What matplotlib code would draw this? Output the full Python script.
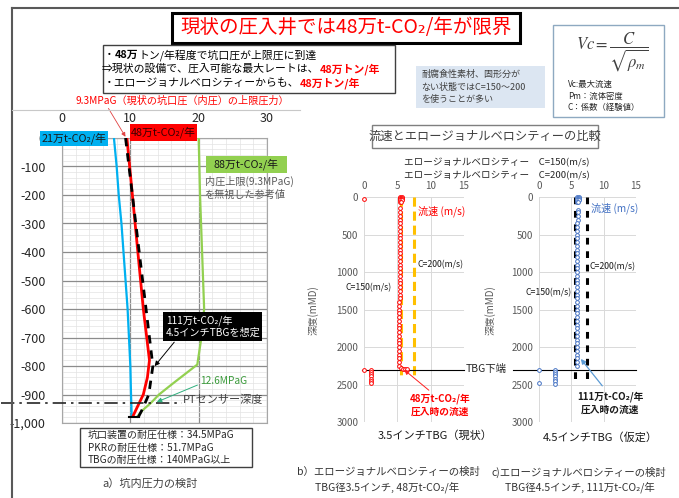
import matplotlib
matplotlib.use("Agg")
import matplotlib.pyplot as plt
from matplotlib.patches import Rectangle
from matplotlib.lines import Line2D

plt.rcParams['font.family'] = ['Noto Sans CJK JP', 'DejaVu Sans']
plt.rcParams['mathtext.fontset'] = 'stix'

W, H = 679, 498

# a) 坑内圧力の検討  (圧力 MPaG, 深度 m)
depth_21 = [0, -100, -200, -300, -400, -500, -600, -700, -800, -900, -975]
p_21 = [7.6, 8.0, 8.3, 8.7, 9.0, 9.3, 9.6, 9.8, 10.0, 10.1, 10.2]
depth_48 = [0, -200, -400, -600, -700, -780, -840, -900, -950, -975]
p_48 = [9.5, 10.3, 11.1, 11.9, 12.4, 12.8, 12.5, 11.9, 10.9, 10.4]
depth_111 = [0, -200, -400, -600, -700, -800, -900, -950, -978]
p_111 = [9.3, 10.3, 11.3, 12.3, 12.8, 13.3, 12.7, 11.8, 11.2]
depth_88 = [0, -200, -400, -600, -700, -795, -860, -900, -930, -955, -978]
p_88 = [20.0, 20.2, 20.5, 20.8, 20.4, 19.8, 16.3, 14.2, 13.0, 11.8, 11.0]
bottom_depth = -980
bottom_p = [9.8, 11.2]
pt_depth = -930
yticks_a = [0, -100, -200, -300, -400, -500, -600, -700, -800, -900, -1000]
ylabels_a = ["0", "-100", "-200", "-300", "-400", "-500", "-600", "-700", "-800", "-900", "-1,000"]

# b) 3.5インチTBG  流速 (m/s) vs 深度 (mMD)
depth_b = [0, 0, 15, 15, 30, 30, 45, 45, 60, 60,
           150, 200, 250, 300, 350, 400, 450, 500, 550, 600, 650, 700, 750, 800, 850,
           900, 950, 1000, 1050, 1100, 1150, 1200, 1250, 1300, 1350, 1400, 1450, 1500,
           1550, 1600, 1650, 1700, 1750, 1800, 1850, 1900, 1950, 2000, 2050, 2100, 2150,
           2200, 2250, 2280, 2290, 2290, 2295,
           20, 2300, 2300, 2330, 2360, 2390, 2420, 2450, 2480]
vel_b = [5.4, 5.7, 5.4, 5.7, 5.4, 5.7, 5.4, 5.7, 5.4, 5.6,
         5.45, 5.45, 5.45, 5.45, 5.4, 5.4, 5.4, 5.4, 5.4, 5.4, 5.4, 5.4, 5.4, 5.4, 5.4,
         5.4, 5.35, 5.35, 5.35, 5.35, 5.35, 5.35, 5.35, 5.35, 5.35, 5.3, 5.3, 5.3,
         5.3, 5.3, 5.3, 5.3, 5.3, 5.3, 5.3, 5.3, 5.3, 5.3, 5.3, 5.3, 5.3,
         5.3, 5.3, 5.5, 5.8, 6.1, 6.4,
         0.0, 0.0, 1.0, 1.0, 1.0, 1.0, 1.0, 1.0, 1.0]
c150_b = [5.6, 5.6]
c200_b = [7.5, 7.5]
c_depth_b = [0, 2400]

# c) 4.5インチTBG
depth_c = [0, 0, 15, 15, 30, 30, 45, 45, 60, 60,
           170, 200, 250, 300, 350, 400, 450, 500, 550, 600, 650, 700, 750, 800, 850,
           900, 950, 1000, 1050, 1100, 1150, 1200, 1250, 1300, 1350, 1400, 1450, 1500,
           1550, 1600, 1650, 1700, 1750, 1800, 1850, 1900, 1950, 2000, 2050, 2100, 2150,
           2200, 2250,
           2300, 2480, 2300, 2330, 2360, 2390, 2420, 2450, 2490]
vel_c = [5.9, 6.2, 5.9, 6.2, 5.9, 6.2, 5.9, 6.2, 5.9, 6.1,
         6.0, 6.0, 6.0, 6.0, 5.95, 5.95, 5.95, 5.95, 5.9, 5.9, 5.9, 5.9, 5.9, 5.9, 5.9,
         5.9, 5.9, 5.85, 5.85, 5.85, 5.85, 5.85, 5.85, 5.85, 5.85, 5.85, 5.85, 5.8,
         5.8, 5.8, 5.8, 5.8, 5.8, 5.8, 5.8, 5.8, 5.8, 5.8, 5.8, 5.8, 5.8,
         5.8, 5.8,
         0.0, 0.0, 2.4, 2.4, 2.4, 2.4, 2.4, 2.4, 2.4]
c150_c = [5.5, 5.5]
c200_c = [7.4, 7.4]
c_depth_c = [0, 2480]
tbg_depth = 2300


def box(x0, y0, x1, y1):
    return [x0 / W, 1 - y1 / H, (x1 - x0) / W, (y1 - y0) / H]


def fx(x):
    return x / W


def fy(y):
    return 1 - y / H


def rect(x0, y0, x1, y1, fc="none", ec="black", lw=1.0, z=5):
    fig.patches.append(Rectangle((fx(x0), fy(y1)), (x1 - x0) / W, (y1 - y0) / H,
                                 transform=fig.transFigure, facecolor=fc,
                                 edgecolor=ec, linewidth=lw, zorder=z))


def text(x, y, s, **kw):
    kw.setdefault("va", "center")
    return fig.text(fx(x), fy(y), s, **kw)


def rich(x, y, parts, size):
    r = fig.canvas.get_renderer()
    for s, color, weight in parts:
        t = text(x, y, s, fontsize=size, color=color, fontweight=weight, zorder=6)
        x = t.get_window_extent(r).x1


fig = plt.figure(figsize=(W / 100, H / 100), dpi=100)

# frame lines
fig.add_artist(Line2D([fx(12), 1], [fy(8), fy(8)], color="#595959", lw=1.5))
fig.add_artist(Line2D([fx(12), fx(12)], [fy(8), 0], color="#595959", lw=1.5))
fig.add_artist(Line2D([fx(12), fx(300)], [fy(110), fy(110)], color="#c8c8c8", lw=0.8))

# title
rect(172, 13, 520, 43, fc="white", ec="black", lw=2.2)
text(346, 28, "現状の圧入井では48万t-CO₂/年が限界", ha="center", fontsize=14,
     color="#ff0000", zorder=6)

# bullet box
rect(103, 45, 395, 93, fc="white", ec="#404040", lw=1.0)
rich(104, 55, [("・", "black", "normal"), ("48万", "black", "bold"),
               ("トン/年程度で坑口圧が上限圧に到達", "black", "normal")], 7.8)
rich(102, 69, [("⇒現状の設備で、圧入可能な最大レートは、", "black", "normal"),
               ("48万トン/年", "#ff0000", "bold")], 7.8)
rich(104, 83, [("・エロージョナルベロシティーからも、", "black", "normal"),
               ("48万トン/年", "#ff0000", "bold")], 7.8)

# note box
rect(416, 66, 545, 108, fc="#dce6f2", ec="none")
text(421, 87, "耐腐食性素材、固形分が\nない状態ではC=150～200\nを使うことが多い",
     fontsize=6.5, color="#404040", linespacing=1.5, zorder=6)

# formula box
rect(553, 25, 664, 117, fc="white", ec="#8ea9c1", lw=1.0)
text(612, 52, r"$Vc=\dfrac{C}{\sqrt{\rho_m}}$", ha="center", fontsize=12,
     color="#404040", zorder=6)
text(568, 96, "Vc:最大流速\nPm：流体密度\nC：係数（経験値）", fontsize=6,
     color="#262626", linespacing=1.35, zorder=6)

# ---------- a) ----------
ax = fig.add_axes(box(62, 138, 267, 423))
ax.plot(p_21, depth_21, color="#00b0f0", lw=1.6, zorder=3)
ax.plot(p_88, depth_88, color="#92d050", lw=1.6, zorder=3)
ax.plot(p_48, depth_48, color="#ff0000", lw=2.0, zorder=3)
ax.plot(p_111, depth_111, color="black", lw=2.0, ls=(0, (3, 2.5)), zorder=4)
ax.plot(bottom_p, [bottom_depth] * 2, color="black", lw=1.5, zorder=4)
ax.axhline(pt_depth, xmin=-0.3, xmax=0.585, color="#262626", lw=1.2,
           ls=(0, (8, 3, 1.5, 3)), clip_on=False, zorder=4)
ax.set_xlim(0, 30)
ax.set_ylim(-1000, 0)
ax.set_xticks([0, 10, 20, 30])
ax.set_xticks(range(0, 31, 2), minor=True)
ax.set_yticks(yticks_a)
ax.set_yticklabels(ylabels_a)
ax.set_yticks(range(-1000, 1, 20), minor=True)
ax.xaxis.tick_top()
ax.tick_params(which="both", length=0, labelsize=9, colors="#262626")
ax.tick_params(axis="x", pad=9)
ax.tick_params(axis="y", pad=12)
ax.grid(which="major", color="#8c8c8c", lw=0.9)
ax.grid(which="minor", color="#e3e3e3", lw=0.5)
for s in ax.spines.values():
    s.set_color("#a6a6a6")
    s.set_linewidth(0.8)

rect(40, 131, 108, 146, fc="#00b0f0", ec="none", z=7)
text(74, 138.5, "21万t-CO₂/年", ha="center", fontsize=7.8, color="#1a1a1a", zorder=8)
rect(130, 124, 197, 141, fc="#ff0000", ec="none", z=7)
text(163.5, 132.5, "48万t-CO₂/年", ha="center", fontsize=7.8, color="#3a0000", zorder=8)
rect(206, 156, 287, 173, fc="#92d050", ec="none", z=7)
text(246.5, 164.5, "88万t-CO₂/年", ha="center", fontsize=7.8, color="#1a1a1a", zorder=8)
text(205, 188, "内圧上限(9.3MPaG)\nを無視した参考値", fontsize=7.3, color="#595959",
     linespacing=1.25, zorder=8)
rect(163, 312, 262, 341, fc="black", ec="none", z=7)
text(166, 326.5, "111万t-CO₂/年\n4.5インチTBGを想定", fontsize=7.3, color="white",
     linespacing=1.3, zorder=8)
ax.annotate("", xy=(13.3, -808), xycoords="data", xytext=(fx(176), fy(340)),
            textcoords="figure fraction",
            arrowprops=dict(arrowstyle="-|>", color="black", lw=0.7,
                            mutation_scale=7), zorder=8)
text(200, 381, "12.6MPaG", fontsize=7.3, color="#3a9a3a", zorder=8)
ax.annotate("", xy=(13.5, -930), xycoords="data", xytext=(fx(200), fy(384)),
            textcoords="figure fraction",
            arrowprops=dict(arrowstyle="-|>", color="#2eaf7d", lw=0.7,
                            mutation_scale=7), zorder=8)
text(183, 400, "PTセンサー深度", fontsize=8, color="#404040", zorder=8)
text(75, 101, "9.3MPaG（現状の坑口圧（内圧）の上限圧力）", fontsize=7.3,
     color="#ff0000", zorder=8)
ax.annotate("", xy=(9.5, -4), xycoords="data", xytext=(fx(107), fy(106)),
            textcoords="figure fraction",
            arrowprops=dict(arrowstyle="-|>", color="#e04040", lw=0.6,
                            mutation_scale=6), zorder=8)

rect(80, 428, 252, 467, fc="white", ec="#404040", lw=1.0)
text(88, 447.5, "坑口装置の耐圧仕様：34.5MPaG\nPKRの耐圧仕様：51.7MPaG\nTBGの耐圧仕様：140MPaG以上",
     fontsize=7.2, color="#262626", linespacing=1.3, zorder=6)
text(150, 483, "a）坑内圧力の検討", ha="center", fontsize=8, color="#404040")

# ---------- b), c) ----------
rect(372, 125, 598, 148, fc="white", ec="#7f7f7f", lw=1.0)
text(485, 136.5, "流速とエロージョナルベロシティーの比較", ha="center", fontsize=8.8,
     color="#404040", zorder=6)
text(404, 163, "エロージョナルベロシティー　C=150(m/s)", fontsize=6.9, color="#262626")
text(404, 176, "エロージョナルベロシティー　C=200(m/s)", fontsize=6.9, color="#262626")


def vel_axes(left, right, depth, vel, mcolor, c150, c200, cdep, lcolor, dash):
    a = fig.add_axes(box(left, 197, right, 422))
    a.plot(c150, cdep, color=lcolor, lw=2.2, ls=dash, zorder=2)
    a.plot(c200, cdep, color=lcolor, lw=2.2, ls=dash, zorder=2)
    a.plot(vel, depth, ls="none", marker="o", ms=2.7, mfc="white", mec=mcolor,
           mew=0.7, zorder=3, clip_on=False)
    a.set_xlim(0, 15)
    a.set_ylim(3000, 0)
    a.set_xticks([0, 5, 10, 15])
    a.set_yticks(range(0, 3001, 500))
    a.xaxis.tick_top()
    a.tick_params(length=0, labelsize=7, colors="#595959", pad=4)
    a.grid(color="#d9d9d9", lw=0.7)
    for s in a.spines.values():
        s.set_visible(False)
    return a


axb = vel_axes(364, 464, depth_b, vel_b, "#ff0000", c150_b, c200_b, c_depth_b,
               "#ffc000", (0, (3, 1.6)))
axb.axhline(tbg_depth, xmin=-0.02, xmax=1.0, color="black", lw=0.8, clip_on=False)
axc = vel_axes(539, 636, depth_c, vel_c, "#4472c4", c150_c, c200_c, c_depth_c,
               "black", (0, (2.2, 2.2)))
axc.axhline(tbg_depth, xmin=-0.27, xmax=1.0, color="black", lw=0.8, clip_on=False)

text(313, 310, "深度(mMD)", ha="center", rotation=90, fontsize=7, color="#595959")
text(490, 310, "深度(mMD)", ha="center", rotation=90, fontsize=7, color="#595959")
text(466, 369, "TBG下端", fontsize=7.5, color="#262626")

text(418, 211, "流速 (m/s)", fontsize=7.3, color="#ff0000")
text(418, 265, "C=200(m/s)", fontsize=6.3, color="#1a1a1a")
text(345, 288, "C=150(m/s)", fontsize=6.3, color="#1a1a1a")
text(440, 405, "48万t-CO₂/年\n圧入時の流速", ha="center", fontsize=7, color="#ff0000",
     fontweight="bold", linespacing=1.3)
axb.annotate("", xy=(5.7, 2280), xycoords="data", xytext=(fx(431), fy(392)),
             textcoords="figure fraction",
             arrowprops=dict(arrowstyle="-|>", color="#ff2020", lw=0.7,
                             mutation_scale=7))

text(591, 208, "流速 (m/s)", fontsize=7.3, color="#4472c4")
text(590, 267, "C=200(m/s)", fontsize=6.3, color="#1a1a1a")
text(525, 293, "C=150(m/s)", fontsize=6.3, color="#1a1a1a")
text(610, 403, "111万t-CO₂/年\n圧入時の流速", ha="center", fontsize=7, color="#1a1a1a",
     fontweight="bold", linespacing=1.3)
axc.annotate("", xy=(6.2, 2130), xycoords="data", xytext=(fx(604), fy(388)),
             textcoords="figure fraction",
             arrowprops=dict(arrowstyle="-|>", color="#5b9bd5", lw=0.9,
                             mutation_scale=7))

text(435, 436, "3.5インチTBG（現状）", ha="center", fontsize=8, color="#1a1a1a")
text(600, 437, "4.5インチTBG（仮定）", ha="center", fontsize=8, color="#1a1a1a")

text(297, 472, "b）エロージョナルベロシティーの検討", fontsize=7.5, color="#333333")
text(315, 487, "TBG径3.5インチ, 48万t-CO₂/年", fontsize=7.5, color="#333333")
text(492, 472, "c)エロージョナルベロシティーの検討", fontsize=7.5, color="#333333")
text(505, 487, "TBG径4.5インチ, 111万t-CO₂/年", fontsize=7.5, color="#333333")

fig.savefig("out.png", dpi=100)
